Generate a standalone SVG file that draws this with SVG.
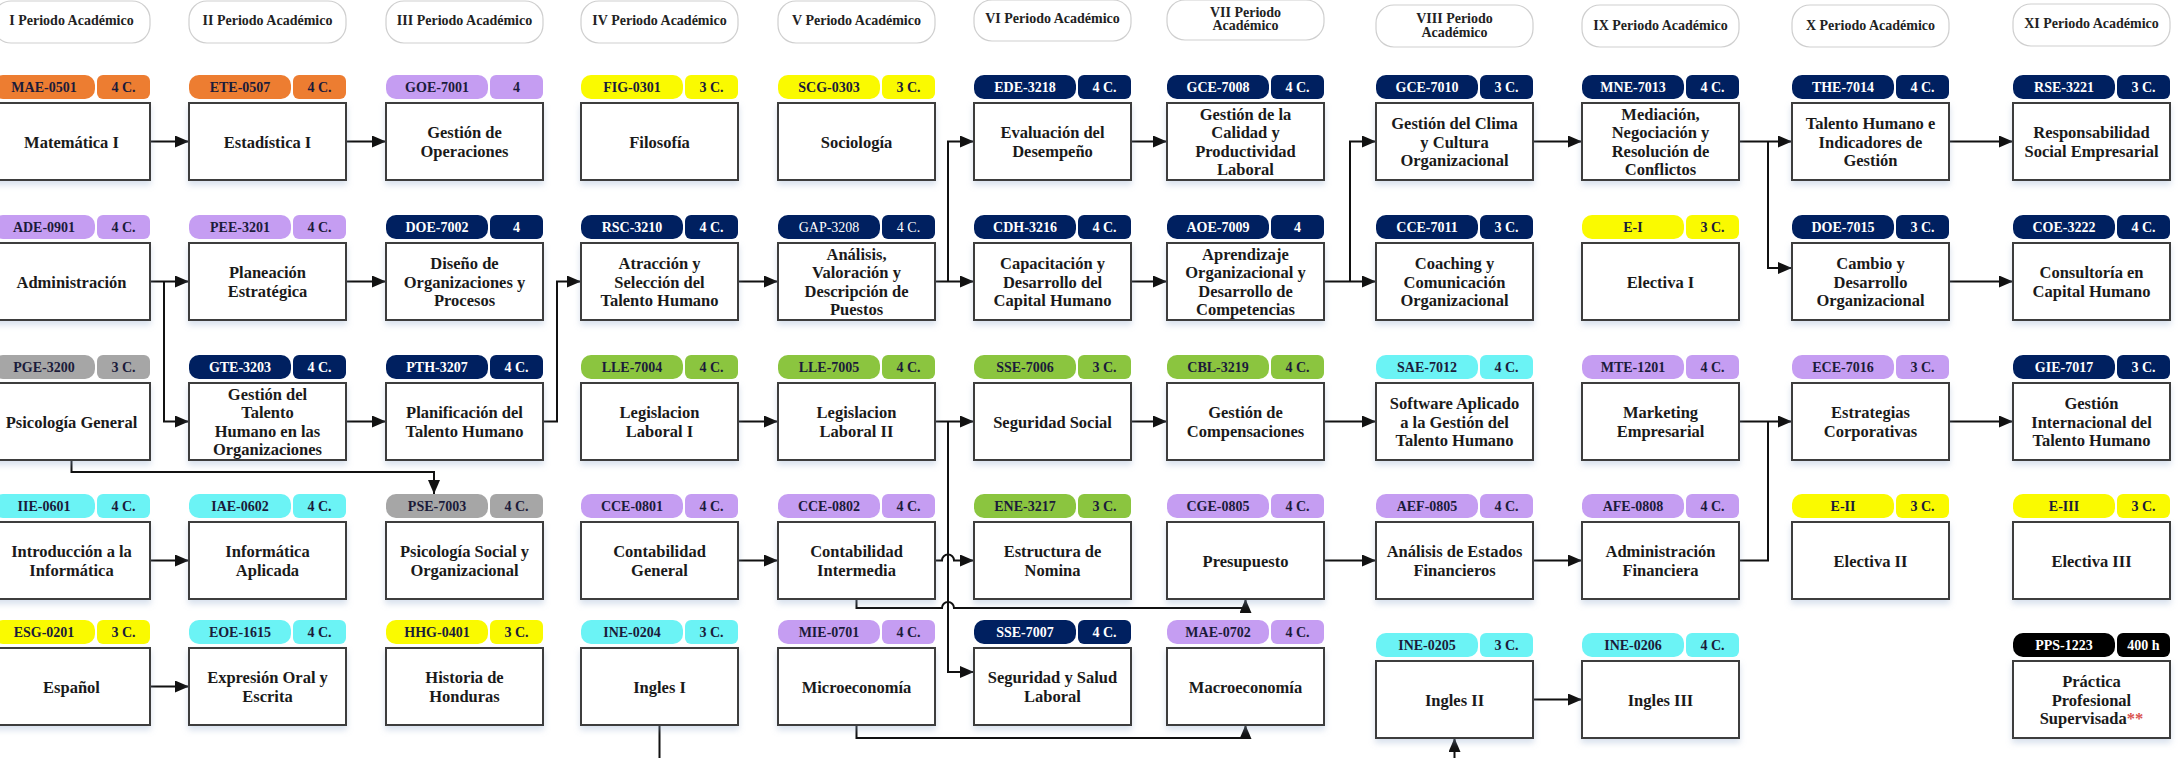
<svg xmlns="http://www.w3.org/2000/svg" width="2179" height="758" viewBox="0 0 2179 758">
<defs>
<filter id="sh" x="-10%" y="-10%" width="120%" height="130%"><feDropShadow dx="0" dy="4" stdDeviation="3" flood-color="#8fa8cc" flood-opacity="0.35"/></filter>
<marker id="ah" markerWidth="14" markerHeight="12" refX="14" refY="6" orient="auto" markerUnits="userSpaceOnUse"><path d="M0,0 L14,6 L0,12 z" fill="#111"/></marker>
</defs>
<style>
.box{fill:#fff;stroke:#3d3d3d;stroke-width:2;filter:url(#sh)}
.t{font-family:"Liberation Serif","Times New Roman",serif;font-weight:bold;font-size:16.5px;fill:#1a1a1a;text-anchor:middle}
.tg{font-family:"Liberation Serif","Times New Roman",serif;font-weight:bold;font-size:14px;fill:#1b1b3a;text-anchor:middle}
.w{fill:#fff}
.nb{font-weight:normal}
.hd{font-family:"Liberation Serif","Times New Roman",serif;font-weight:bold;font-size:14px;fill:#222;text-anchor:middle}
.hp{fill:#fff;stroke:#cfcfcf;stroke-width:1.2}
.or{fill:#ED7D31}.lv{fill:#C59DF2}.nv{fill:#002060}.gy{fill:#A6A6A6}.cy{fill:#6BF3F5}.ye{fill:#FAFA00}.gr{fill:#8BC53F}.bk{fill:#000}
.c{fill:none;stroke:#111;stroke-width:2}
.ca{fill:none;stroke:#111;stroke-width:2;marker-end:url(#ah)}
</style>
<rect x="0" y="0" width="2179" height="758" fill="#fff"/>

<g id="headers">
<rect class="hp" x="-7" y="1" width="157" height="42" rx="18"/><text class="hd" x="71.5" y="25">I Periodo Académico</text>
<rect class="hp" x="189" y="1" width="157" height="42" rx="18"/><text class="hd" x="267.5" y="25">II Periodo Académico</text>
<rect class="hp" x="386" y="1" width="157" height="42" rx="18"/><text class="hd" x="464.5" y="25">III Periodo Académico</text>
<rect class="hp" x="581" y="1" width="157" height="42" rx="18"/><text class="hd" x="659.5" y="25">IV Periodo Académico</text>
<rect class="hp" x="778" y="1" width="157" height="42" rx="18"/><text class="hd" x="856.5" y="25">V Periodo Académico</text>
<rect class="hp" x="974" y="0" width="157" height="41" rx="18"/><text class="hd" x="1052.5" y="23">VI Periodo Académico</text>
<rect class="hp" x="1167" y="0" width="157" height="40" rx="18"/><text class="hd" x="1245.5" y="17">VII Periodo</text><text class="hd" x="1245.5" y="30">Académico</text>
<rect class="hp" x="1376" y="5" width="157" height="42" rx="18"/><text class="hd" x="1454.5" y="23">VIII Periodo</text><text class="hd" x="1454.5" y="37">Académico</text>
<rect class="hp" x="1582" y="5" width="157" height="42" rx="18"/><text class="hd" x="1660.5" y="30">IX Periodo Académico</text>
<rect class="hp" x="1792" y="5" width="157" height="42" rx="18"/><text class="hd" x="1870.5" y="30">X Periodo Académico</text>
<rect class="hp" x="2013" y="4" width="157" height="42" rx="18"/><text class="hd" x="2091.5" y="28">XI Periodo Académico</text>
</g>

<g id="connectors">
<path class="ca" d="M150,141.5 H189"/>
<path class="ca" d="M346,141.5 H386"/>
<path class="ca" d="M150,281.5 H189"/>
<path class="ca" d="M164,281.5 V421.5 H189"/>
<path class="ca" d="M346,281.5 H386"/>
<path class="ca" d="M346,421.5 H386"/>
<path class="ca" d="M543,421.5 H557 V281.5 H581"/>
<path class="ca" d="M71.5,459.5 V472 H434 V494"/>
<path class="ca" d="M150,560.5 H189"/>
<path class="ca" d="M150,686.5 H189"/>
<path class="ca" d="M738,281.5 H778"/>
<path class="ca" d="M935,281.5 H974"/>
<path class="ca" d="M948,281.5 V141.5 H974"/>
<path class="ca" d="M1131,141.5 H1167"/>
<path class="ca" d="M1131,281.5 H1167"/>
<path class="ca" d="M1324,281.5 H1376"/>
<path class="ca" d="M1350,281.5 V141.5 H1376"/>
<path class="ca" d="M1533,141.5 H1582"/>
<path class="ca" d="M1739,141.5 H1792"/>
<path class="ca" d="M1768,141.5 V268 H1792"/>
<path class="ca" d="M1949,141.5 H2013"/>
<path class="ca" d="M1949,281.5 H2013"/>
<path class="ca" d="M738,421.5 H778"/>
<path class="ca" d="M935,421.5 H974"/>
<path class="ca" d="M948,421.5 V672 H974"/>
<path class="ca" d="M1131,421.5 H1167"/>
<path class="ca" d="M1324,421.5 H1376"/>
<path class="ca" d="M1739,421.5 H1792"/>
<path class="c" d="M1739,560.5 H1768 V421.5"/>
<path class="ca" d="M1949,421.5 H2013"/>
<path class="ca" d="M738,560.5 H778"/>
<path class="ca" d="M935,560.5 H942 A6,6 0 0 1 954,560.5 H974"/>
<path class="ca" d="M856.5,599 V608 H942 A6,6 0 0 1 954,608 H1245.5 V599"/>
<path class="ca" d="M1324,560.5 H1376"/>
<path class="ca" d="M1533,560.5 H1582"/>
<path class="ca" d="M856.5,725 V738 H1245.5 V725"/>
<path class="ca" d="M659.5,725 V775 H1454.5 V738"/>
<path class="ca" d="M1533,699.5 H1582"/>
</g>

<!-- Column I -->
<g id="MAE-0501"><rect class="or" x="-7" y="75" width="102" height="24" rx="10"/><rect class="or" x="97" y="75" width="53" height="24" rx="6"/><text class="tg" x="44" y="92">MAE-0501</text><text class="tg" x="123.5" y="92">4 C.</text><rect class="box" x="-7" y="103" width="157" height="77"/><text class="t" x="71.5" y="147.5">Matemática I</text></g>
<g id="ADE-0901"><rect class="lv" x="-7" y="215" width="102" height="24" rx="10"/><rect class="lv" x="97" y="215" width="53" height="24" rx="6"/><text class="tg" x="44" y="232">ADE-0901</text><text class="tg" x="123.5" y="232">4 C.</text><rect class="box" x="-7" y="243" width="157" height="77"/><text class="t" x="71.5" y="287.5">Administración</text></g>
<g id="PGE-3200"><rect class="gy" x="-7" y="355" width="102" height="24" rx="10"/><rect class="gy" x="97" y="355" width="53" height="24" rx="6"/><text class="tg" x="44" y="372">PGE-3200</text><text class="tg" x="123.5" y="372">3 C.</text><rect class="box" x="-7" y="383" width="157" height="77"/><text class="t" x="71.5" y="427.5">Psicología General</text></g>
<g id="IIE-0601"><rect class="cy" x="-7" y="494" width="102" height="24" rx="10"/><rect class="cy" x="97" y="494" width="53" height="24" rx="6"/><text class="tg" x="44" y="511">IIE-0601</text><text class="tg" x="123.5" y="511">4 C.</text><rect class="box" x="-7" y="522" width="157" height="77"/><text class="t"><tspan x="71.5" y="557.25">Introducción a la</tspan><tspan x="71.5" y="575.75">Informática</tspan></text></g>
<g id="ESG-0201"><rect class="ye" x="-7" y="620" width="102" height="24" rx="10"/><rect class="ye" x="97" y="620" width="53" height="24" rx="6"/><text class="tg" x="44" y="637">ESG-0201</text><text class="tg" x="123.5" y="637">3 C.</text><rect class="box" x="-7" y="648" width="157" height="77"/><text class="t" x="71.5" y="692.5">Español</text></g>

<!-- Column II -->
<g id="ETE-0507"><rect class="or" x="189" y="75" width="102" height="24" rx="10"/><rect class="or" x="293" y="75" width="53" height="24" rx="6"/><text class="tg" x="240" y="92">ETE-0507</text><text class="tg" x="319.5" y="92">4 C.</text><rect class="box" x="189" y="103" width="157" height="77"/><text class="t" x="267.5" y="147.5">Estadística I</text></g>
<g id="PEE-3201"><rect class="lv" x="189" y="215" width="102" height="24" rx="10"/><rect class="lv" x="293" y="215" width="53" height="24" rx="6"/><text class="tg" x="240" y="232">PEE-3201</text><text class="tg" x="319.5" y="232">4 C.</text><rect class="box" x="189" y="243" width="157" height="77"/><text class="t"><tspan x="267.5" y="278.25">Planeación</tspan><tspan x="267.5" y="296.75">Estratégica</tspan></text></g>
<g id="GTE-3203"><rect class="nv" x="189" y="355" width="102" height="24" rx="10"/><rect class="nv" x="293" y="355" width="53" height="24" rx="6"/><text class="tg w" x="240" y="372">GTE-3203</text><text class="tg w" x="319.5" y="372">4 C.</text><rect class="box" x="189" y="383" width="157" height="77"/><text class="t"><tspan x="267.5" y="400">Gestión del</tspan><tspan x="267.5" y="418.3">Talento</tspan><tspan x="267.5" y="436.6">Humano en las</tspan><tspan x="267.5" y="454.9">Organizaciones</tspan></text></g>
<g id="IAE-0602"><rect class="cy" x="189" y="494" width="102" height="24" rx="10"/><rect class="cy" x="293" y="494" width="53" height="24" rx="6"/><text class="tg" x="240" y="511">IAE-0602</text><text class="tg" x="319.5" y="511">4 C.</text><rect class="box" x="189" y="522" width="157" height="77"/><text class="t"><tspan x="267.5" y="557.25">Informática</tspan><tspan x="267.5" y="575.75">Aplicada</tspan></text></g>
<g id="EOE-1615"><rect class="cy" x="189" y="620" width="102" height="24" rx="10"/><rect class="cy" x="293" y="620" width="53" height="24" rx="6"/><text class="tg" x="240" y="637">EOE-1615</text><text class="tg" x="319.5" y="637">4 C.</text><rect class="box" x="189" y="648" width="157" height="77"/><text class="t"><tspan x="267.5" y="683.25">Expresión Oral y</tspan><tspan x="267.5" y="701.75">Escrita</tspan></text></g>

<!-- Column III -->
<g id="GOE-7001"><rect class="lv" x="386" y="75" width="102" height="24" rx="10"/><rect class="lv" x="490" y="75" width="53" height="24" rx="6"/><text class="tg" x="437" y="92">GOE-7001</text><text class="tg" x="516.5" y="92">4</text><rect class="box" x="386" y="103" width="157" height="77"/><text class="t"><tspan x="464.5" y="138.25">Gestión de</tspan><tspan x="464.5" y="156.75">Operaciones</tspan></text></g>
<g id="DOE-7002"><rect class="nv" x="386" y="215" width="102" height="24" rx="10"/><rect class="nv" x="490" y="215" width="53" height="24" rx="6"/><text class="tg w" x="437" y="232">DOE-7002</text><text class="tg w" x="516.5" y="232">4</text><rect class="box" x="386" y="243" width="157" height="77"/><text class="t"><tspan x="464.5" y="269">Diseño de</tspan><tspan x="464.5" y="287.5">Organizaciones y</tspan><tspan x="464.5" y="306">Procesos</tspan></text></g>
<g id="PTH-3207"><rect class="nv" x="386" y="355" width="102" height="24" rx="10"/><rect class="nv" x="490" y="355" width="53" height="24" rx="6"/><text class="tg w" x="437" y="372">PTH-3207</text><text class="tg w" x="516.5" y="372">4 C.</text><rect class="box" x="386" y="383" width="157" height="77"/><text class="t"><tspan x="464.5" y="418.25">Planificación del</tspan><tspan x="464.5" y="436.75">Talento Humano</tspan></text></g>
<g id="PSE-7003"><rect class="gy" x="386" y="494" width="102" height="24" rx="10"/><rect class="gy" x="490" y="494" width="53" height="24" rx="6"/><text class="tg" x="437" y="511">PSE-7003</text><text class="tg" x="516.5" y="511">4 C.</text><rect class="box" x="386" y="522" width="157" height="77"/><text class="t"><tspan x="464.5" y="557.25">Psicología Social y</tspan><tspan x="464.5" y="575.75">Organizacional</tspan></text></g>
<g id="HHG-0401"><rect class="ye" x="386" y="620" width="102" height="24" rx="10"/><rect class="ye" x="490" y="620" width="53" height="24" rx="6"/><text class="tg" x="437" y="637">HHG-0401</text><text class="tg" x="516.5" y="637">3 C.</text><rect class="box" x="386" y="648" width="157" height="77"/><text class="t"><tspan x="464.5" y="683.25">Historia de</tspan><tspan x="464.5" y="701.75">Honduras</tspan></text></g>

<!-- Column IV -->
<g id="FIG-0301"><rect class="ye" x="581" y="75" width="102" height="24" rx="10"/><rect class="ye" x="685" y="75" width="53" height="24" rx="6"/><text class="tg" x="632" y="92">FIG-0301</text><text class="tg" x="711.5" y="92">3 C.</text><rect class="box" x="581" y="103" width="157" height="77"/><text class="t" x="659.5" y="147.5">Filosofía</text></g>
<g id="RSC-3210"><rect class="nv" x="581" y="215" width="102" height="24" rx="10"/><rect class="nv" x="685" y="215" width="53" height="24" rx="6"/><text class="tg w" x="632" y="232">RSC-3210</text><text class="tg w" x="711.5" y="232">4 C.</text><rect class="box" x="581" y="243" width="157" height="77"/><text class="t"><tspan x="659.5" y="269">Atracción y</tspan><tspan x="659.5" y="287.5">Selección del</tspan><tspan x="659.5" y="306">Talento Humano</tspan></text></g>
<g id="LLE-7004"><rect class="gr" x="581" y="355" width="102" height="24" rx="10"/><rect class="gr" x="685" y="355" width="53" height="24" rx="6"/><text class="tg" x="632" y="372">LLE-7004</text><text class="tg" x="711.5" y="372">4 C.</text><rect class="box" x="581" y="383" width="157" height="77"/><text class="t"><tspan x="659.5" y="418.25">Legislacion</tspan><tspan x="659.5" y="436.75">Laboral I</tspan></text></g>
<g id="CCE-0801"><rect class="lv" x="581" y="494" width="102" height="24" rx="10"/><rect class="lv" x="685" y="494" width="53" height="24" rx="6"/><text class="tg" x="632" y="511">CCE-0801</text><text class="tg" x="711.5" y="511">4 C.</text><rect class="box" x="581" y="522" width="157" height="77"/><text class="t"><tspan x="659.5" y="557.25">Contabilidad</tspan><tspan x="659.5" y="575.75">General</tspan></text></g>
<g id="INE-0204"><rect class="cy" x="581" y="620" width="102" height="24" rx="10"/><rect class="cy" x="685" y="620" width="53" height="24" rx="6"/><text class="tg" x="632" y="637">INE-0204</text><text class="tg" x="711.5" y="637">3 C.</text><rect class="box" x="581" y="648" width="157" height="77"/><text class="t" x="659.5" y="692.5">Ingles I</text></g>

<!-- Column V -->
<g id="SCG-0303"><rect class="ye" x="778" y="75" width="102" height="24" rx="10"/><rect class="ye" x="882" y="75" width="53" height="24" rx="6"/><text class="tg" x="829" y="92">SCG-0303</text><text class="tg" x="908.5" y="92">3 C.</text><rect class="box" x="778" y="103" width="157" height="77"/><text class="t" x="856.5" y="147.5">Sociología</text></g>
<g id="GAP-3208"><rect class="nv" x="778" y="215" width="102" height="24" rx="10"/><rect class="nv" x="882" y="215" width="53" height="24" rx="6"/><text class="tg w nb" x="829" y="232">GAP-3208</text><text class="tg w nb" x="908.5" y="232">4 C.</text><rect class="box" x="778" y="243" width="157" height="77"/><text class="t"><tspan x="856.5" y="260">Análisis,</tspan><tspan x="856.5" y="278.3">Valoración y</tspan><tspan x="856.5" y="296.6">Descripción de</tspan><tspan x="856.5" y="314.9">Puestos</tspan></text></g>
<g id="LLE-7005"><rect class="gr" x="778" y="355" width="102" height="24" rx="10"/><rect class="gr" x="882" y="355" width="53" height="24" rx="6"/><text class="tg" x="829" y="372">LLE-7005</text><text class="tg" x="908.5" y="372">4 C.</text><rect class="box" x="778" y="383" width="157" height="77"/><text class="t"><tspan x="856.5" y="418.25">Legislacion</tspan><tspan x="856.5" y="436.75">Laboral II</tspan></text></g>
<g id="CCE-0802"><rect class="lv" x="778" y="494" width="102" height="24" rx="10"/><rect class="lv" x="882" y="494" width="53" height="24" rx="6"/><text class="tg" x="829" y="511">CCE-0802</text><text class="tg" x="908.5" y="511">4 C.</text><rect class="box" x="778" y="522" width="157" height="77"/><text class="t"><tspan x="856.5" y="557.25">Contabilidad</tspan><tspan x="856.5" y="575.75">Intermedia</tspan></text></g>
<g id="MIE-0701"><rect class="lv" x="778" y="620" width="102" height="24" rx="10"/><rect class="lv" x="882" y="620" width="53" height="24" rx="6"/><text class="tg" x="829" y="637">MIE-0701</text><text class="tg" x="908.5" y="637">4 C.</text><rect class="box" x="778" y="648" width="157" height="77"/><text class="t" x="856.5" y="692.5">Microeconomía</text></g>

<!-- Column VI -->
<g id="EDE-3218"><rect class="nv" x="974" y="75" width="102" height="24" rx="10"/><rect class="nv" x="1078" y="75" width="53" height="24" rx="6"/><text class="tg w" x="1025" y="92">EDE-3218</text><text class="tg w" x="1104.5" y="92">4 C.</text><rect class="box" x="974" y="103" width="157" height="77"/><text class="t"><tspan x="1052.5" y="138.25">Evaluación del</tspan><tspan x="1052.5" y="156.75">Desempeño</tspan></text></g>
<g id="CDH-3216"><rect class="nv" x="974" y="215" width="102" height="24" rx="10"/><rect class="nv" x="1078" y="215" width="53" height="24" rx="6"/><text class="tg w" x="1025" y="232">CDH-3216</text><text class="tg w" x="1104.5" y="232">4 C.</text><rect class="box" x="974" y="243" width="157" height="77"/><text class="t"><tspan x="1052.5" y="269">Capacitación y</tspan><tspan x="1052.5" y="287.5">Desarrollo del</tspan><tspan x="1052.5" y="306">Capital Humano</tspan></text></g>
<g id="SSE-7006"><rect class="gr" x="974" y="355" width="102" height="24" rx="10"/><rect class="gr" x="1078" y="355" width="53" height="24" rx="6"/><text class="tg" x="1025" y="372">SSE-7006</text><text class="tg" x="1104.5" y="372">3 C.</text><rect class="box" x="974" y="383" width="157" height="77"/><text class="t" x="1052.5" y="427.5">Seguridad Social</text></g>
<g id="ENE-3217"><rect class="gr" x="974" y="494" width="102" height="24" rx="10"/><rect class="gr" x="1078" y="494" width="53" height="24" rx="6"/><text class="tg" x="1025" y="511">ENE-3217</text><text class="tg" x="1104.5" y="511">3 C.</text><rect class="box" x="974" y="522" width="157" height="77"/><text class="t"><tspan x="1052.5" y="557.25">Estructura de</tspan><tspan x="1052.5" y="575.75">Nomina</tspan></text></g>
<g id="SSE-7007"><rect class="nv" x="974" y="620" width="102" height="24" rx="10"/><rect class="nv" x="1078" y="620" width="53" height="24" rx="6"/><text class="tg w" x="1025" y="637">SSE-7007</text><text class="tg w" x="1104.5" y="637">4 C.</text><rect class="box" x="974" y="648" width="157" height="77"/><text class="t"><tspan x="1052.5" y="683.25">Seguridad y Salud</tspan><tspan x="1052.5" y="701.75">Laboral</tspan></text></g>

<!-- Column VII -->
<g id="GCE-7008"><rect class="nv" x="1167" y="75" width="102" height="24" rx="10"/><rect class="nv" x="1271" y="75" width="53" height="24" rx="6"/><text class="tg w" x="1218" y="92">GCE-7008</text><text class="tg w" x="1297.5" y="92">4 C.</text><rect class="box" x="1167" y="103" width="157" height="77"/><text class="t"><tspan x="1245.5" y="120">Gestión de la</tspan><tspan x="1245.5" y="138.3">Calidad y</tspan><tspan x="1245.5" y="156.6">Productividad</tspan><tspan x="1245.5" y="174.9">Laboral</tspan></text></g>
<g id="AOE-7009"><rect class="nv" x="1167" y="215" width="102" height="24" rx="10"/><rect class="nv" x="1271" y="215" width="53" height="24" rx="6"/><text class="tg w" x="1218" y="232">AOE-7009</text><text class="tg w" x="1297.5" y="232">4</text><rect class="box" x="1167" y="243" width="157" height="77"/><text class="t"><tspan x="1245.5" y="260">Aprendizaje</tspan><tspan x="1245.5" y="278.3">Organizacional y</tspan><tspan x="1245.5" y="296.6">Desarrollo de</tspan><tspan x="1245.5" y="314.9">Competencias</tspan></text></g>
<g id="CBL-3219"><rect class="gr" x="1167" y="355" width="102" height="24" rx="10"/><rect class="gr" x="1271" y="355" width="53" height="24" rx="6"/><text class="tg" x="1218" y="372">CBL-3219</text><text class="tg" x="1297.5" y="372">4 C.</text><rect class="box" x="1167" y="383" width="157" height="77"/><text class="t"><tspan x="1245.5" y="418.25">Gestión de</tspan><tspan x="1245.5" y="436.75">Compensaciones</tspan></text></g>
<g id="CGE-0805"><rect class="lv" x="1167" y="494" width="102" height="24" rx="10"/><rect class="lv" x="1271" y="494" width="53" height="24" rx="6"/><text class="tg" x="1218" y="511">CGE-0805</text><text class="tg" x="1297.5" y="511">4 C.</text><rect class="box" x="1167" y="522" width="157" height="77"/><text class="t" x="1245.5" y="566.5">Presupuesto</text></g>
<g id="MAE-0702"><rect class="lv" x="1167" y="620" width="102" height="24" rx="10"/><rect class="lv" x="1271" y="620" width="53" height="24" rx="6"/><text class="tg" x="1218" y="637">MAE-0702</text><text class="tg" x="1297.5" y="637">4 C.</text><rect class="box" x="1167" y="648" width="157" height="77"/><text class="t" x="1245.5" y="692.5">Macroeconomía</text></g>

<!-- Column VIII -->
<g id="GCE-7010"><rect class="nv" x="1376" y="75" width="102" height="24" rx="10"/><rect class="nv" x="1480" y="75" width="53" height="24" rx="6"/><text class="tg w" x="1427" y="92">GCE-7010</text><text class="tg w" x="1506.5" y="92">3 C.</text><rect class="box" x="1376" y="103" width="157" height="77"/><text class="t"><tspan x="1454.5" y="129">Gestión del Clima</tspan><tspan x="1454.5" y="147.5">y Cultura</tspan><tspan x="1454.5" y="166">Organizacional</tspan></text></g>
<g id="CCE-7011"><rect class="nv" x="1376" y="215" width="102" height="24" rx="10"/><rect class="nv" x="1480" y="215" width="53" height="24" rx="6"/><text class="tg w" x="1427" y="232">CCE-7011</text><text class="tg w" x="1506.5" y="232">3 C.</text><rect class="box" x="1376" y="243" width="157" height="77"/><text class="t"><tspan x="1454.5" y="269">Coaching y</tspan><tspan x="1454.5" y="287.5">Comunicación</tspan><tspan x="1454.5" y="306">Organizacional</tspan></text></g>
<g id="SAE-7012"><rect class="cy" x="1376" y="355" width="102" height="24" rx="10"/><rect class="cy" x="1480" y="355" width="53" height="24" rx="6"/><text class="tg" x="1427" y="372">SAE-7012</text><text class="tg" x="1506.5" y="372">4 C.</text><rect class="box" x="1376" y="383" width="157" height="77"/><text class="t"><tspan x="1454.5" y="409">Software Aplicado</tspan><tspan x="1454.5" y="427.5">a la Gestión del</tspan><tspan x="1454.5" y="446">Talento Humano</tspan></text></g>
<g id="AEF-0805"><rect class="lv" x="1376" y="494" width="102" height="24" rx="10"/><rect class="lv" x="1480" y="494" width="53" height="24" rx="6"/><text class="tg" x="1427" y="511">AEF-0805</text><text class="tg" x="1506.5" y="511">4 C.</text><rect class="box" x="1376" y="522" width="157" height="77"/><text class="t"><tspan x="1454.5" y="557.25">Análisis de Estados</tspan><tspan x="1454.5" y="575.75">Financieros</tspan></text></g>
<g id="INE-0205"><rect class="cy" x="1376" y="633" width="102" height="24" rx="10"/><rect class="cy" x="1480" y="633" width="53" height="24" rx="6"/><text class="tg" x="1427" y="650">INE-0205</text><text class="tg" x="1506.5" y="650">3 C.</text><rect class="box" x="1376" y="661" width="157" height="77"/><text class="t" x="1454.5" y="705.5">Ingles II</text></g>

<!-- Column IX -->
<g id="MNE-7013"><rect class="nv" x="1582" y="75" width="102" height="24" rx="10"/><rect class="nv" x="1686" y="75" width="53" height="24" rx="6"/><text class="tg w" x="1633" y="92">MNE-7013</text><text class="tg w" x="1712.5" y="92">4 C.</text><rect class="box" x="1582" y="103" width="157" height="77"/><text class="t"><tspan x="1660.5" y="120">Mediación,</tspan><tspan x="1660.5" y="138.3">Negociación y</tspan><tspan x="1660.5" y="156.6">Resolución de</tspan><tspan x="1660.5" y="174.9">Conflictos</tspan></text></g>
<g id="E-I"><rect class="ye" x="1582" y="215" width="102" height="24" rx="10"/><rect class="ye" x="1686" y="215" width="53" height="24" rx="6"/><text class="tg" x="1633" y="232">E-I</text><text class="tg" x="1712.5" y="232">3 C.</text><rect class="box" x="1582" y="243" width="157" height="77"/><text class="t" x="1660.5" y="287.5">Electiva I</text></g>
<g id="MTE-1201"><rect class="lv" x="1582" y="355" width="102" height="24" rx="10"/><rect class="lv" x="1686" y="355" width="53" height="24" rx="6"/><text class="tg" x="1633" y="372">MTE-1201</text><text class="tg" x="1712.5" y="372">4 C.</text><rect class="box" x="1582" y="383" width="157" height="77"/><text class="t"><tspan x="1660.5" y="418.25">Marketing</tspan><tspan x="1660.5" y="436.75">Empresarial</tspan></text></g>
<g id="AFE-0808"><rect class="lv" x="1582" y="494" width="102" height="24" rx="10"/><rect class="lv" x="1686" y="494" width="53" height="24" rx="6"/><text class="tg" x="1633" y="511">AFE-0808</text><text class="tg" x="1712.5" y="511">4 C.</text><rect class="box" x="1582" y="522" width="157" height="77"/><text class="t"><tspan x="1660.5" y="557.25">Administración</tspan><tspan x="1660.5" y="575.75">Financiera</tspan></text></g>
<g id="INE-0206"><rect class="cy" x="1582" y="633" width="102" height="24" rx="10"/><rect class="cy" x="1686" y="633" width="53" height="24" rx="6"/><text class="tg" x="1633" y="650">INE-0206</text><text class="tg" x="1712.5" y="650">4 C.</text><rect class="box" x="1582" y="661" width="157" height="77"/><text class="t" x="1660.5" y="705.5">Ingles III</text></g>

<!-- Column X -->
<g id="THE-7014"><rect class="nv" x="1792" y="75" width="102" height="24" rx="10"/><rect class="nv" x="1896" y="75" width="53" height="24" rx="6"/><text class="tg w" x="1843" y="92">THE-7014</text><text class="tg w" x="1922.5" y="92">4 C.</text><rect class="box" x="1792" y="103" width="157" height="77"/><text class="t"><tspan x="1870.5" y="129">Talento Humano e</tspan><tspan x="1870.5" y="147.5">Indicadores de</tspan><tspan x="1870.5" y="166">Gestión</tspan></text></g>
<g id="DOE-7015"><rect class="nv" x="1792" y="215" width="102" height="24" rx="10"/><rect class="nv" x="1896" y="215" width="53" height="24" rx="6"/><text class="tg w" x="1843" y="232">DOE-7015</text><text class="tg w" x="1922.5" y="232">3 C.</text><rect class="box" x="1792" y="243" width="157" height="77"/><text class="t"><tspan x="1870.5" y="269">Cambio y</tspan><tspan x="1870.5" y="287.5">Desarrollo</tspan><tspan x="1870.5" y="306">Organizacional</tspan></text></g>
<g id="ECE-7016"><rect class="lv" x="1792" y="355" width="102" height="24" rx="10"/><rect class="lv" x="1896" y="355" width="53" height="24" rx="6"/><text class="tg" x="1843" y="372">ECE-7016</text><text class="tg" x="1922.5" y="372">3 C.</text><rect class="box" x="1792" y="383" width="157" height="77"/><text class="t"><tspan x="1870.5" y="418.25">Estrategias</tspan><tspan x="1870.5" y="436.75">Corporativas</tspan></text></g>
<g id="E-II"><rect class="ye" x="1792" y="494" width="102" height="24" rx="10"/><rect class="ye" x="1896" y="494" width="53" height="24" rx="6"/><text class="tg" x="1843" y="511">E-II</text><text class="tg" x="1922.5" y="511">3 C.</text><rect class="box" x="1792" y="522" width="157" height="77"/><text class="t" x="1870.5" y="566.5">Electiva II</text></g>

<!-- Column XI -->
<g id="RSE-3221"><rect class="nv" x="2013" y="75" width="102" height="24" rx="10"/><rect class="nv" x="2117" y="75" width="53" height="24" rx="6"/><text class="tg w" x="2064" y="92">RSE-3221</text><text class="tg w" x="2143.5" y="92">3 C.</text><rect class="box" x="2013" y="103" width="157" height="77"/><text class="t"><tspan x="2091.5" y="138.25">Responsabilidad</tspan><tspan x="2091.5" y="156.75">Social Empresarial</tspan></text></g>
<g id="COE-3222"><rect class="nv" x="2013" y="215" width="102" height="24" rx="10"/><rect class="nv" x="2117" y="215" width="53" height="24" rx="6"/><text class="tg w" x="2064" y="232">COE-3222</text><text class="tg w" x="2143.5" y="232">4 C.</text><rect class="box" x="2013" y="243" width="157" height="77"/><text class="t"><tspan x="2091.5" y="278.25">Consultoría en</tspan><tspan x="2091.5" y="296.75">Capital Humano</tspan></text></g>
<g id="GIE-7017"><rect class="nv" x="2013" y="355" width="102" height="24" rx="10"/><rect class="nv" x="2117" y="355" width="53" height="24" rx="6"/><text class="tg w" x="2064" y="372">GIE-7017</text><text class="tg w" x="2143.5" y="372">3 C.</text><rect class="box" x="2013" y="383" width="157" height="77"/><text class="t"><tspan x="2091.5" y="409">Gestión</tspan><tspan x="2091.5" y="427.5">Internacional del</tspan><tspan x="2091.5" y="446">Talento Humano</tspan></text></g>
<g id="E-III"><rect class="ye" x="2013" y="494" width="102" height="24" rx="10"/><rect class="ye" x="2117" y="494" width="53" height="24" rx="6"/><text class="tg" x="2064" y="511">E-III</text><text class="tg" x="2143.5" y="511">3 C.</text><rect class="box" x="2013" y="522" width="157" height="77"/><text class="t" x="2091.5" y="566.5">Electiva III</text></g>
<g id="PPS-1223"><rect class="bk" x="2013" y="633" width="102" height="24" rx="10"/><rect class="bk" x="2117" y="633" width="53" height="24" rx="6"/><text class="tg w" x="2064" y="650">PPS-1223</text><text class="tg w" x="2143.5" y="650">400 h</text><rect class="box" x="2013" y="661" width="157" height="77"/><text class="t"><tspan x="2091.5" y="687">Práctica</tspan><tspan x="2091.5" y="705.5">Profesional</tspan><tspan x="2091.5" y="724">Supervisada<tspan fill="#d9534f">**</tspan></tspan></text></g>
</svg>
